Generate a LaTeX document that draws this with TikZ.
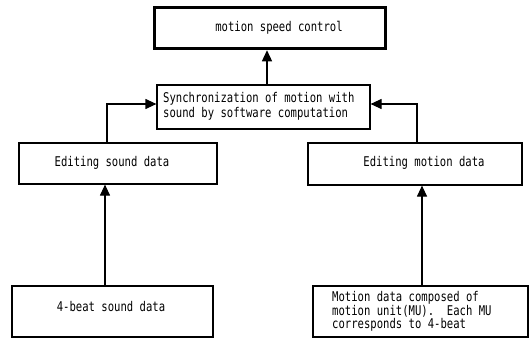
\documentclass[tikz,border=0pt]{standalone}
\usepackage{fontspec}
\newfontfamily\monof[FakeStretch=0.79]{DejaVu Sans Mono}
\usetikzlibrary{arrows.meta}
\tikzset{
  box/.style={draw, line width=1.2pt, rectangle, inner sep=0pt},
  thickbox/.style={draw, line width=3.5pt, rectangle, inner sep=0pt},
  txt/.style={font=\monof\fontsize{13.4}{15.5}\selectfont, inner sep=0pt},
  arr/.style={line width=1.2pt, -{Triangle[length=11pt,width=10pt]}}
}
\begin{document}
\begin{tikzpicture}[x=1pt,y=-1pt]
\useasboundingbox (0,0) rectangle (530,340);
\node[thickbox, minimum width=231pt, minimum height=41pt] (top) at (270,28) {};
\node[box, minimum width=213pt, minimum height=44pt] (sync) at (263.5,107) {};
\node[box, minimum width=198pt, minimum height=41pt] (editL) at (118,163.5) {};
\node[box, minimum width=214pt, minimum height=42pt] (editR) at (415,164) {};
\node[box, minimum width=201pt, minimum height=51pt] (soundL) at (112.5,311.5) {};
\node[box, minimum width=215pt, minimum height=51pt] (motionR) at (420.5,311.5) {};

\node[txt] (t1) at (279,28) {motion speed control};
\node[txt, anchor=west, align=left] (t2) at (163,106.5) {Synchronization of motion with\\sound by software computation};
\node[txt] (t3) at (112,163) {Editing sound data};
\node[txt] (t4) at (424,163) {Editing motion data};
\node[txt] (t5) at (111,307) {4-beat sound data};
\node[txt, anchor=west, align=left, font=\monof\fontsize{13.4}{13.7}\selectfont] (t6) at (332,311.5) {Motion data composed of\\motion unit(MU).\ \ Each MU\\corresponds to 4-beat};

\draw[arr] ([xshift=3.5pt]sync.north) -- ([xshift=3.5pt]sync.north |- top.south);
\draw[arr] ([xshift=-11pt]editL.north) |- ([yshift=3pt]sync.west);
\draw[arr] ([xshift=2pt]editR.north) |- ([yshift=3pt]sync.east);
\draw[arr] ([xshift=-7.5pt]soundL.north) -- ([xshift=-7.5pt]editL.south -| soundL.north);
\draw[arr] ([xshift=1.5pt]motionR.north) -- ([xshift=1.5pt]motionR.north |- editR.south);
\end{tikzpicture}
\end{document}
